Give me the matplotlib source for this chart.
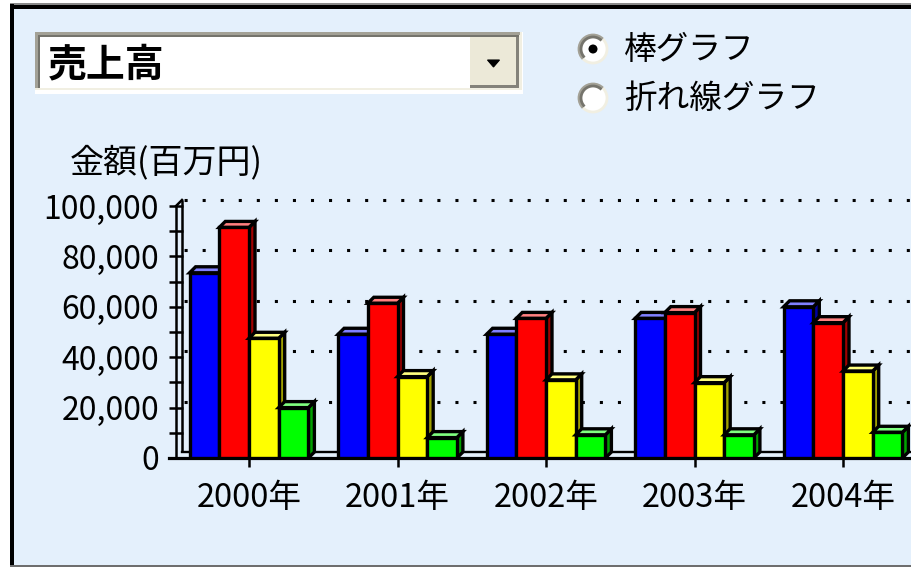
import matplotlib
matplotlib.use("Agg")
import matplotlib.pyplot as plt
from matplotlib.patches import Rectangle, Polygon, Circle, Arc

plt.rcParams['font.family'] = ['Noto Sans CJK JP', 'DejaVu Sans']
plt.rcParams['lines.scale_dashes'] = False

# data
years = ['2000年', '2001年', '2002年', '2003年', '2004年']
blue_vals = [73500, 49100, 49100, 55400, 60000]
red_vals = [91500, 61400, 55400, 57700, 53700]
yellow_vals = [47500, 32300, 31000, 29900, 34500]
green_vals = [20000, 8100, 9200, 9200, 10200]

y_ticks = [0, 20000, 40000, 60000, 80000, 100000]
y_labels = ['0', '20,000', '40,000', '60,000', '80,000', '100,000']
y_minor = [10000, 30000, 50000, 70000, 90000]

series = [
    (blue_vals, '#0000ff', '#8080ff', '#0000a0'),
    (red_vals, '#ff0000', '#ff8080', '#a00000'),
    (yellow_vals, '#ffff00', '#ffff80', '#a0a000'),
    (green_vals, '#00ff00', '#80ff80', '#00a000'),
]

W, H = 911, 567
BG = '#e4f0fc'

fig = plt.figure(figsize=(W / 100, H / 100), dpi=100, facecolor='white')

# ---- window / widgets layer (pixel coordinates) ----
ui = fig.add_axes([0, 0, 1, 1], zorder=0)
ui.set_xlim(0, W)
ui.set_ylim(H, 0)
ui.axis('off')

ui.add_patch(Rectangle((10, 4), W, 562, facecolor=BG, edgecolor='none'))
ui.add_patch(Rectangle((10, 3), W, 1.5, facecolor='#8a8a8a', edgecolor='none'))
ui.add_patch(Rectangle((10, 4.5), W, 4.5, facecolor='black', edgecolor='none'))
ui.add_patch(Rectangle((10, 4), 4, 562, facecolor='black', edgecolor='none'))
ui.add_patch(Rectangle((10, 565), W, 2, facecolor='#6e6e6e', edgecolor='none'))

# combo box
ui.add_patch(Rectangle((35, 32), 488, 62, facecolor='white', edgecolor='none'))
ui.add_patch(Rectangle((35, 32), 487, 58, facecolor='#f1efe2', edgecolor='none'))
ui.add_patch(Rectangle((35, 32), 485, 2.5, facecolor='#a3a196', edgecolor='none'))
ui.add_patch(Rectangle((35, 32), 2.5, 56, facecolor='#a3a196', edgecolor='none'))
ui.add_patch(Rectangle((37.5, 34.5), 481, 2.5, facecolor='#75746c', edgecolor='none'))
ui.add_patch(Rectangle((37.5, 34.5), 2.5, 53.5, facecolor='#75746c', edgecolor='none'))
ui.add_patch(Rectangle((40, 37), 430, 51, facecolor='white', edgecolor='none'))
# drop button
ui.add_patch(Rectangle((470, 37), 48.5, 51, facecolor='#84827a', edgecolor='none'))
ui.add_patch(Rectangle((470, 37), 45.5, 48, facecolor='#ece9d8', edgecolor='none'))
ui.add_patch(Polygon([(487.5, 60), (499.5, 60), (493.5, 67)], closed=True,
                     facecolor='black', edgecolor='black', lw=0.8))
ui.text(48, 65, '売上高', fontsize=28, fontweight='bold', ha='left',
        va='center', color='black')

# radio buttons
for cy, checked in [(49, True), (98, False)]:
    ui.add_patch(Circle((593, cy), 14, facecolor='white', edgecolor='none'))
    ui.add_patch(Arc((593, cy), 28, 28, theta1=135, theta2=315,
                     color='#a3a196', lw=2))
    ui.add_patch(Arc((593, cy), 24, 24, theta1=135, theta2=315,
                     color='#75746c', lw=2))
    ui.add_patch(Arc((593, cy), 28, 28, theta1=315, theta2=135,
                     color='#f1efe2', lw=2))
    if checked:
        ui.add_patch(Circle((593, cy), 4.5, facecolor='black', edgecolor='none'))
ui.text(624, 50, '棒グラフ', fontsize=23.5, ha='left', va='center')
ui.text(624, 99, '折れ線グラフ', fontsize=23.5, ha='left', va='center')

ui.text(70, 163, '金額(百万円)', fontsize=24.5, ha='left', va='center')

# ---- chart layer ----
cat_px = 148.5      # pixels between categories
cat0_px = 249       # x pixel of first category
left_px, right_px = 169, W
base_px = 458       # y pixel of value 0
px_per_unit = 2.52 / 1000
top_val = 106000
top_px = base_px - top_val * px_per_unit

ax = fig.add_axes([left_px / W, 1 - base_px / H, (right_px - left_px) / W,
                   (base_px - top_px) / H], zorder=1)
ax.set_facecolor('none')
ax.set_xlim((left_px - cat0_px) / cat_px, (right_px - cat0_px) / cat_px)
ax.set_ylim(0, top_val)

dx = 6 / cat_px
dy = 6 / px_per_unit
x_front = (176 - cat0_px) / cat_px
x_back = x_front + dx
x_end = ax.get_xlim()[1]

for s in ['top', 'right']:
    ax.spines[s].set_visible(False)
ax.spines['left'].set_position(('data', x_front))
ax.spines['left'].set_bounds(0, 100000)
ax.spines['left'].set_linewidth(1.8)
ax.spines['bottom'].set_linewidth(2.3)

# back wall, floor and dotted grid
ax.plot([x_back, x_back], [dy, 100000 + dy], color='black', lw=1.8,
        solid_capstyle='butt', zorder=2)
ax.plot([x_front, x_back], [100000, 100000 + dy], color='black', lw=1.8, zorder=2)
ax.plot([x_back, x_end], [dy, dy], color='black', lw=1.7, zorder=2)
for v in y_ticks[1:]:
    ax.plot([x_back, x_end], [v + dy, v + dy], color='black', lw=2.2,
            linestyle=(11.5, (2.2, 10.8)), dash_capstyle='butt', zorder=1)

# 3D bars
n = len(series)
w = 0.2
z = 3
for i in range(len(years)):
    for j, (vals, front, top, side) in enumerate(series):
        x0 = i - n * w / 2 + j * w
        x1 = x0 + w
        v = vals[i]
        kw = dict(closed=True, edgecolor='black', lw=2.4, joinstyle='miter', zorder=z)
        ax.add_patch(Polygon([(x1, 0), (x1 + dx, dy), (x1 + dx, v + dy), (x1, v)],
                             facecolor=side, **kw))
        ax.add_patch(Polygon([(x0, v), (x0 + dx, v + dy), (x1 + dx, v + dy), (x1, v)],
                             facecolor=top, **kw))
        ax.add_patch(Polygon([(x0, 0), (x0, v), (x1, v), (x1, 0)],
                             facecolor=front, **kw))
        z += 1

ax.set_yticks(y_ticks)
ax.set_yticklabels(y_labels)
ax.set_yticks(y_minor, minor=True)
ax.tick_params(axis='y', which='both', direction='inout', length=9.4, width=1.8,
               labelsize=23, pad=7.5)
ax.set_xticks(range(len(years)))
ax.set_xticklabels(years)
ax.tick_params(axis='x', direction='out', length=6.5, width=1.8,
               labelsize=23.5, pad=10.5)

fig.savefig('out.png', dpi=100, facecolor='white')
